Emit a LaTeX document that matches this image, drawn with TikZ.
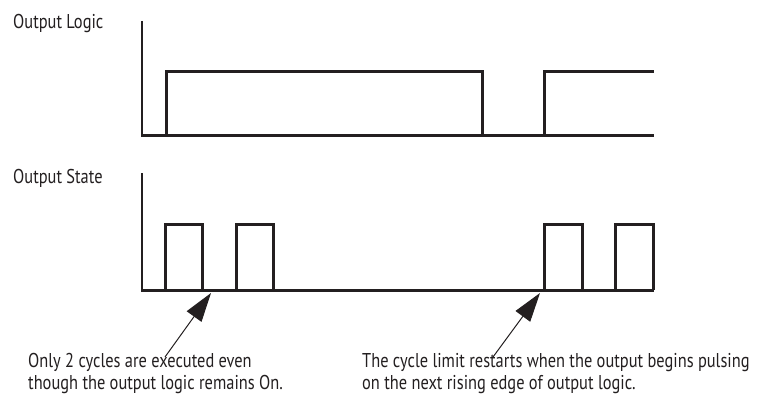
\documentclass[tikz,border=0pt]{standalone}
\usepackage{fontspec}
\setmainfont{PT Sans}[FakeStretch=0.82]
\usetikzlibrary{arrows.meta,positioning,calc}
\definecolor{ink}{HTML}{231F20}

\begin{document}
\begin{tikzpicture}[
    x=1pt, y=-1pt,
    caption/.style={anchor=base west, inner sep=0pt, font=\fontsize{20}{22}\selectfont, text=ink, align=left},
    axis/.style={draw=ink, line width=2pt},
    wave/.style={draw=ink, line width=3pt, line join=miter},
    pointer/.style={draw=ink, line width=1pt, -{Triangle[length=29pt,width=18pt]}}
]
\useasboundingbox (0,0) rectangle (759,417);

% titles
\node[caption] (logic) at (13,29) {Output Logic};
\node[caption] (state) at (13,183) {Output State};

% output logic trace
\draw[axis] (142,21) -- (142,135);
\draw[wave] (141,135) -- (654,135);
\draw[wave] (166,135) -- (166,72) -- (482,72) -- (482,135);
\draw[wave] (544,135) -- (544,72) -- (654,72);

% output state trace
\draw[axis] (142,173) -- (142,290);
\draw[wave] (141,290) -- (654,290);
\draw[wave] (165,290) -- (165,224) -- (202,224) -- (202,290);
\draw[wave] (236,290) -- (236,224) -- (273,224) -- (273,290);
\draw[wave] (544,290) -- (544,224) -- (582,224) -- (582,290);
\draw[wave] (615,290) -- (615,224) -- (653,224) -- (653,290);

% notes
\node[caption] (note1) at (28,389) {Only 2 cycles are executed even\\though the output logic remains On.};
\node[caption] (note2) at (362,389) {The cycle limit restarts when the output begins pulsing\\on the next rising edge of output logic.};

\coordinate (tail1) at (165,357);
\coordinate (tip1) at (211,293);
\coordinate (tail2) at (493,357);
\coordinate (tip2) at (540,293);
\draw[pointer] (tail1) -- (tip1);
\draw[pointer] (tail2) -- (tip2);
\end{tikzpicture}
\end{document}
